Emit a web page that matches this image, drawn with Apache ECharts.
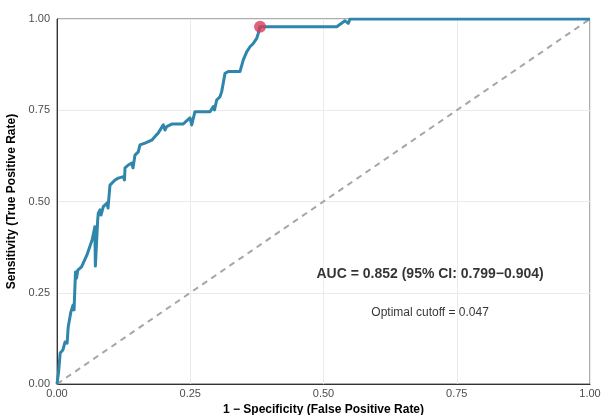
<!DOCTYPE html>
<html>
<head>
<meta charset="utf-8">
<script src="https://cdn.jsdelivr.net/npm/echarts@6/dist/echarts.min.js"></script>
<style>html,body{margin:0;padding:0;background:#fff}#c{width:603px;height:415px}</style>
</head>
<body>
<div id="c"></div>
<script>
// ROC curve points
const fpr = [0, 0.001, 0.003, 0.006, 0.011, 0.015, 0.019, 0.021, 0.026, 0.0276, 0.030, 0.032, 0.0347, 0.0366, 0.039,
  0.046, 0.056, 0.066, 0.071, 0.072, 0.0763, 0.0775, 0.0807, 0.0826, 0.0869, 0.090, 0.0938, 0.0957, 0.0994,
  0.1088, 0.115, 0.1244, 0.1266, 0.1276, 0.1338, 0.1402, 0.1426, 0.1463, 0.1525, 0.1557, 0.1651, 0.1777,
  0.1839, 0.1871, 0.1901, 0.1994, 0.2026, 0.2058, 0.2152, 0.2364, 0.2495, 0.2527, 0.2589, 0.2871, 0.2932,
  0.2955, 0.2996, 0.3058, 0.3090, 0.3152, 0.3214, 0.3433, 0.3465, 0.3495, 0.3559, 0.3621, 0.3683, 0.3747,
  0.3777, 0.3809, 0.5248, 0.5403, 0.5465, 0.5497, 1];
const tpr = [0, 0.011, 0.033, 0.085, 0.093, 0.115, 0.112, 0.156, 0.197, 0.197, 0.216, 0.203, 0.307, 0.290, 0.312,
  0.321, 0.353, 0.395, 0.431, 0.323, 0.449, 0.468, 0.477, 0.463, 0.486, 0.490, 0.496, 0.482, 0.545,
  0.559, 0.564, 0.568, 0.559, 0.592, 0.600, 0.605, 0.592, 0.627, 0.636, 0.655, 0.660, 0.668,
  0.678, 0.674, 0.688, 0.710, 0.696, 0.705, 0.712, 0.712, 0.729, 0.710, 0.746, 0.746, 0.760,
  0.751, 0.778, 0.787, 0.801, 0.851, 0.856, 0.856, 0.851, 0.888, 0.910, 0.924, 0.933, 0.947,
  0.961, 0.979, 0.979, 0.995, 0.988, 1, 1];
const optimalPoint = [0.381, 0.979];
const refLine = [[0, 0], [1, 1]];
const aucText = 'AUC = 0.852 (95% CI: 0.799\u22120.904)';
const cutoffText = 'Optimal cutoff = 0.047';
const aucPos = [0.70, 0.30];
const cutoffPos = [0.70, 0.195];

const rocData = fpr.map((x, i) => [x, tpr[i]]);
const font = 'Liberation Sans, Arial, sans-serif';
const fmt = v => v.toFixed(2);

const chart = echarts.init(document.getElementById('c'));
chart.setOption({
  animation: false,
  backgroundColor: '#fff',
  grid: { left: 57, right: 13, top: 19, bottom: 31, show: true, borderColor: '#5a5a5a', borderWidth: 1,
    containLabel: false, outerBoundsMode: 'none' },
  xAxis: {
    type: 'value', min: 0, max: 1, interval: 0.25,
    name: '1 \u2212 Specificity (False Positive Rate)', nameLocation: 'middle', nameGap: 18,
    nameTextStyle: { fontFamily: font, fontWeight: 'bold', fontSize: 12, color: '#000' },
    axisLine: { show: true, lineStyle: { color: '#333', width: 1 } },
    axisTick: { show: false },
    axisLabel: { formatter: fmt, color: '#4d4d4d', fontFamily: font, fontSize: 11, margin: 4 },
    splitLine: { show: true, lineStyle: { color: '#ebebeb', width: 1 } }
  },
  yAxis: {
    type: 'value', min: 0, max: 1, interval: 0.25,
    name: 'Sensitivity (True Positive Rate)', nameLocation: 'middle', nameGap: 31, nameRotate: 90,
    nameTextStyle: { fontFamily: font, fontWeight: 'bold', fontSize: 12, color: '#000' },
    axisLine: { show: true, lineStyle: { color: '#333', width: 1 } },
    axisTick: { show: false },
    axisLabel: { formatter: fmt, color: '#4d4d4d', fontFamily: font, fontSize: 11, margin: 7 },
    splitLine: { show: true, lineStyle: { color: '#ebebeb', width: 1 } }
  },
  series: [
    {
      type: 'line', data: refLine, symbol: 'none', silent: true,
      lineStyle: { color: '#a6a6a6', width: 2, type: [6, 5] }
    },
    {
      type: 'line', data: rocData, symbol: 'none', silent: true,
      lineStyle: { color: '#2e86ab', width: 3, join: 'round' }
    },
    {
      type: 'scatter', data: [optimalPoint], symbolSize: 12,
      itemStyle: { color: '#d43d5a' }, z: 5
    },
    {
      type: 'scatter', data: [aucPos], symbolSize: 0,
      label: { show: true, position: 'inside', formatter: aucText, color: '#000',
        fontFamily: font, fontWeight: 'bold', fontSize: 14 }
    },
    {
      type: 'scatter', data: [cutoffPos], symbolSize: 0,
      label: { show: true, position: 'inside', formatter: cutoffText, color: '#000',
        fontFamily: font, fontSize: 12 }
    }
  ]
});
</script>
</body>
</html>
